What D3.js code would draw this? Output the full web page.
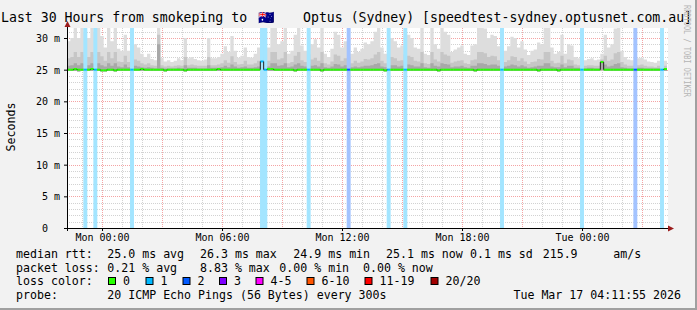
<!DOCTYPE html>
<html>
<head>
<meta charset="utf-8">
<script src="https://cdn.jsdelivr.net/npm/d3@7"></script>
<style>
html, body { margin: 0; padding: 0; background: #f2f2f2; }
svg { display: block; font-family: "DejaVu Sans Mono", monospace; }
text { white-space: pre; }
</style>
</head>
<body>
<div id="chart"></div>
<script>
// 30 hours of 10 minute samples, times in UTC so the labels match the picture
const startTime = Date.UTC(2026, 2, 15, 22, 15);
const endTime = Date.UTC(2026, 2, 17, 4, 15);
const stepMinutes = 10;

// round trip times in ms
const rttMax = [29.5,30,32,30,32,31,30,32,31,32,
  30.3,28.5,32,29.5,32,28.3,28,30.5,28,32,
  29,28.5,27.5,27,27.5,26.7,26.5,32,26.8,26.3,
  26.5,26.2,26.4,26.8,26.5,30,26.8,27,26.7,26.5,
  26.4,26.6,30,26.8,26.8,27,27.5,28.7,27.8,30.3,
  28,26.9,27.2,28.5,27,26.9,27.5,28.5,31,30,
  28.5,32,32,29,29.5,32,27.5,28,30.5,32,
  28.8,28,31,29,29.8,28.5,32,27.5,27,28.3,
  31,30.5,28.5,29.5,30,27.5,28.5,27.8,28.3,29.3,
  29,29.5,31,32,28.5,27.5,30,30,29.5,28.5,
  28.8,31,30.5,30,28.5,28.3,32,27.5,27.3,32,
  29,28.3,32,31,30.5,27.8,28.2,28.5,28.8,27.5,
  27.3,28.8,29,32,32,31.5,30,30.5,30.3,28.7,
  30,28,28.7,30.2,30,28.5,29.5,28.2,27.3,28,
  28.2,29.3,29,32,32,28.5,27.5,27.8,30.5,27.5,
  29,28.8,27,26.8,27,26.5,26.7,26.8,26.5,26.6,
  27.5,30.5,28.5,29,31.5,32,28,27,26.6,26.5,
  27,26.8,26.9,26.6,26.3,26.2,26.1,26.4,26.5,26.4];

const rttUpper = [26.8,27.0,27.8,27.0,27.8,27.4,27.0,27.8,27.4,27.8,
  27.1,26.4,27.8,26.8,27.8,26.3,26.2,27.2,26.2,27.8,
  26.6,26.4,26.0,25.8,26.0,25.7,25.6,30.5,25.7,25.5,
  25.6,25.5,25.6,25.7,25.6,27.0,25.7,25.8,25.7,25.6,
  25.6,25.6,27.0,25.7,25.7,25.8,26.0,26.5,26.1,27.1,
  26.2,25.8,25.9,26.4,25.8,25.8,26.0,26.4,27.4,27.0,
  26.4,27.8,27.8,26.6,26.8,27.8,26.0,26.2,27.2,27.8,
  26.5,26.2,27.4,26.6,26.9,26.4,27.8,26.0,25.8,26.3,
  27.4,27.2,26.4,26.8,27.0,26.0,26.4,26.1,26.3,26.7,
  26.6,26.8,27.4,27.8,26.4,26.0,27.0,27.0,26.8,26.4,
  26.5,27.4,27.2,27.0,26.4,26.3,27.8,26.0,25.9,27.8,
  26.6,26.3,27.8,27.4,27.2,26.1,26.3,26.4,26.5,26.0,
  25.9,26.5,26.6,27.8,27.8,27.6,27.0,27.2,27.1,26.5,
  27.0,26.2,26.5,27.1,27.0,26.4,26.8,26.3,25.9,26.2,
  26.3,26.7,26.6,27.8,27.8,26.4,26.0,26.1,27.2,26.0,
  26.6,26.5,25.8,25.7,25.8,25.6,25.7,25.7,25.6,25.6,
  26.6,27.2,26.4,26.6,27.6,27.8,26.2,25.8,25.6,25.6,
  25.8,25.7,25.8,25.6,25.5,25.5,25.4,25.6,25.6,25.6];

const rttInner = [25.6,25.7,26.0,25.7,26.0,25.9,25.7,26.0,25.9,26.0,
  25.7,25.5,26.0,25.6,26.0,25.5,25.4,25.8,25.4,26.0,
  25.6,25.5,25.4,25.3,25.4,25.3,25.2,29.0,25.3,25.2,
  25.2,25.2,25.2,25.3,25.2,25.7,25.3,25.3,25.3,25.2,
  25.2,25.2,25.7,25.3,25.3,25.3,25.4,25.6,25.4,25.8,
  25.5,25.3,25.4,25.5,25.3,25.3,25.4,25.5,26.6,25.8,
  25.5,26.0,26.0,25.6,25.7,26.0,25.4,25.5,25.8,26.0,
  25.6,25.5,25.9,25.6,25.7,25.5,26.0,25.4,25.3,25.5,
  25.9,25.8,25.5,25.7,25.7,25.4,25.5,25.4,25.5,25.6,
  25.6,25.7,25.9,26.0,25.5,25.4,25.7,25.7,25.7,25.5,
  25.6,25.9,25.8,25.7,25.5,25.5,26.0,25.4,25.3,26.0,
  25.6,25.5,26.0,25.9,25.8,25.4,25.5,25.5,25.6,25.4,
  25.3,25.6,25.6,26.0,26.0,25.9,25.7,25.8,25.8,25.6,
  25.7,25.5,25.6,25.8,25.7,25.5,25.7,25.5,25.3,25.4,
  25.5,25.6,25.6,26.0,26.0,25.5,25.4,25.4,25.8,25.4,
  25.6,25.6,25.3,25.3,25.3,25.2,25.3,25.3,25.2,25.2,
  26.4,25.8,25.5,25.6,25.9,26.0,25.4,25.3,25.2,25.2,
  25.3,25.3,25.3,25.2,25.2,25.2,25.2,25.2,25.2,25.2];

const rttMedian = [25.0,25.0,25.1,25.0,25.0,25.0,25.0,25.1,25.0,25.0,
  24.9,24.9,25.0,25.0,24.9,25.0,25.0,25.0,25.0,25.0,
  25.0,25.0,25.1,25.0,25.0,25.0,25.0,25.0,25.0,24.9,
  25.0,25.0,25.0,25.0,25.0,24.9,25.0,25.0,25.0,25.0,
  25.0,25.0,25.0,25.0,25.0,25.1,25.0,25.0,25.0,25.0,
  25.0,25.0,25.0,25.0,25.0,25.0,25.0,25.0,26.3,25.0,
  25.1,25.1,25.0,25.0,25.0,25.0,25.0,25.0,24.9,25.0,
  25.0,25.0,25.0,25.0,25.0,25.0,24.9,25.0,25.0,25.0,
  25.0,25.0,25.0,25.0,25.0,25.0,25.0,25.0,25.0,25.0,
  25.0,25.0,25.0,25.0,25.0,24.9,25.0,25.0,25.0,25.0,
  25.0,25.0,25.0,25.0,25.0,25.0,25.0,25.0,25.0,25.0,
  25.0,24.9,25.0,25.0,25.0,25.0,25.0,25.0,25.0,25.0,
  25.0,25.0,24.9,25.0,25.0,25.0,25.0,25.0,25.0,25.0,
  25.0,25.0,25.0,25.0,25.0,25.0,25.0,25.0,25.0,25.0,
  25.0,24.9,25.0,25.0,25.0,25.0,25.0,24.9,25.0,25.0,
  25.0,25.0,25.0,25.0,25.0,25.0,25.0,25.0,25.0,25.0,
  26.2,25.0,25.0,25.0,25.0,25.0,25.0,25.0,25.0,25.0,
  25.0,25.0,25.0,25.0,25.0,25.0,25.0,25.0,25.0,25.1];

const rttMin = [24.8,24.8,24.8,24.7,24.8,24.8,24.8,24.8,24.8,24.8,
  24.7,24.7,24.8,24.8,24.7,24.8,24.8,24.8,24.8,24.8,
  24.8,24.8,24.8,24.8,24.8,24.8,24.8,24.8,24.8,24.7,
  24.8,24.8,24.8,24.8,24.8,24.7,24.8,24.8,24.8,24.8,
  24.8,24.8,24.8,24.8,24.8,24.8,24.8,24.8,24.8,24.8,
  24.8,24.8,24.8,24.8,24.8,24.8,24.8,24.8,24.9,24.8,
  24.8,24.8,24.8,24.8,24.8,24.8,24.8,24.8,24.7,24.8,
  24.8,24.8,24.8,24.8,24.8,24.8,24.7,24.8,24.8,24.8,
  24.8,24.8,24.8,24.8,24.8,24.8,24.8,24.8,24.8,24.8,
  24.8,24.8,24.8,24.8,24.8,24.7,24.8,24.8,24.8,24.8,
  24.8,24.8,24.8,24.8,24.8,24.8,24.8,24.8,24.8,24.8,
  24.8,24.7,24.8,24.8,24.8,24.8,24.8,24.8,24.8,24.8,
  24.8,24.8,24.7,24.8,24.8,24.8,24.8,24.8,24.8,24.8,
  24.8,24.8,24.8,24.8,24.8,24.8,24.8,24.8,24.8,24.8,
  24.8,24.7,24.8,24.8,24.8,24.8,24.8,24.7,24.8,24.8,
  24.8,24.8,24.8,24.8,24.8,24.8,24.8,24.8,24.8,24.8,
  24.9,24.8,24.8,24.8,24.8,24.8,24.8,24.8,24.8,24.8,
  24.8,24.8,24.8,24.8,24.8,24.8,24.8,24.8,24.8,24.8];

// packet loss events: sample slot and pings lost out of 20
const lossSlot = [5, 8, 19, 58, 59, 72, 84, 96, 101, 130, 154, 170, 178];
const lossPings = [1, 1, 1, 1, 1, 1, 2, 1, 1, 1, 1, 2, 1];

// legend
const lossLabels = ["0", "1", "2", "3", "4-5", "6-10", "11-19", "20/20"];
const lossColors = ["#26ff00", "#00b8ff", "#0059ff", "#7e00ff", "#ff00ff", "#ff5500", "#ff0000", "#a10000"];
const rttStats = ["25.0 ms avg", "26.3 ms max", "24.9 ms min", "25.1 ms now", "0.1 ms sd", "215.9", "am/s"];
const lossStats = ["0.21 % avg", "8.83 % max", "0.00 % min", "0.00 % now"];
const probeText = "20 ICMP Echo Pings (56 Bytes) every 300s";
const stampText = "Tue Mar 17 04:11:55 2026";
const yTicks = [0, 5, 10, 15, 20, 25, 30];

const width = 697, height = 310;
const plot = { left: 67, right: 667, top: 28, bottom: 228 };

const svg = d3.select("#chart").append("svg")
  .attr("width", width).attr("height", height);

svg.append("rect").attr("width", width).attr("height", height).attr("fill", "#f2f2f2");
// shade on right and bottom edge
svg.append("rect").attr("x", width - 2).attr("y", 0).attr("width", 2).attr("height", height).attr("fill", "#a0a0a0");
svg.append("rect").attr("x", 0).attr("y", height - 2).attr("width", width).attr("height", 2).attr("fill", "#a0a0a0");

const x = d3.scaleUtc().domain([startTime, endTime]).range([plot.left, plot.right]);
const y = d3.scaleLinear().domain([0, 31.58]).range([plot.bottom, plot.top]);

svg.append("rect")
  .attr("x", plot.left).attr("y", plot.top)
  .attr("width", plot.right - plot.left + 1).attr("height", plot.bottom - plot.top)
  .attr("fill", "#fff");

svg.append("clipPath").attr("id", "clip").append("rect")
  .attr("x", plot.left).attr("y", plot.top)
  .attr("width", plot.right - plot.left).attr("height", plot.bottom - plot.top);

// grid
const grid = svg.append("g").attr("shape-rendering", "crispEdges");
const hours = d3.utcHour.range(new Date(startTime), new Date(endTime));
grid.selectAll(".vgrid").data(hours).join("line")
  .attr("x1", d => Math.round(x(d)) + 0.5).attr("x2", d => Math.round(x(d)) + 0.5)
  .attr("y1", plot.top).attr("y2", plot.bottom)
  .attr("stroke", d => d.getUTCHours() % 3 === 0 ? "#f4a4a4" : "#d2d2d2")
  .attr("stroke-dasharray", "1,1");
const yMinor = d3.range(1, 32).filter(v => v % 5 !== 0);
grid.selectAll(".hminor").data(yMinor).join("line")
  .attr("x1", plot.left).attr("x2", plot.right + 1)
  .attr("y1", d => Math.round(y(d)) + 0.5).attr("y2", d => Math.round(y(d)) + 0.5)
  .attr("stroke", "#d2d2d2").attr("stroke-dasharray", "1,1");
grid.selectAll(".hmajor").data(yTicks.slice(1)).join("line")
  .attr("x1", plot.left).attr("x2", plot.right + 1)
  .attr("y1", d => Math.round(y(d)) + 0.5).attr("y2", d => Math.round(y(d)) + 0.5)
  .attr("stroke", "#f4a4a4").attr("stroke-dasharray", "1,1");

// samples
const samples = rttMedian.map((m, i) => ({
  t: startTime + i * stepMinutes * 60000,
  min: rttMin[i], inner: rttInner[i], upper: rttUpper[i], max: rttMax[i], median: m,
  loss: 0
}));
lossSlot.forEach((s, k) => { samples[s].loss = lossPings[k]; });
const last = samples[samples.length - 1];
const stepped = samples.concat([{ ...last, t: last.t + stepMinutes * 60000 }]);

function lossBin(p) {
  if (p <= 3) return p;
  if (p <= 5) return 4;
  if (p <= 10) return 5;
  if (p <= 19) return 6;
  return 7;
}

const data = svg.append("g").attr("clip-path", "url(#clip)");

// smoke
const layers = [
  { key: "max", color: "#dddddd" },
  { key: "upper", color: "#c6c6c6" },
  { key: "inner", color: "#a8a8a8" }
];
layers.forEach(l => {
  data.append("path")
    .datum(stepped)
    .attr("fill", l.color)
    .attr("d", d3.area().curve(d3.curveStepAfter)
      .x(d => x(d.t)).y0(d => y(d.min)).y1(d => y(d[l.key])));
});

// loss bars
const barW = x(startTime + stepMinutes * 60000) - x(startTime);
data.selectAll(".loss").data(samples.filter(d => d.loss > 0)).join("rect")
  .attr("x", d => x(d.t) - 0.3).attr("width", barW + 0.6)
  .attr("y", plot.top).attr("height", plot.bottom - plot.top)
  .attr("fill", d => d3.interpolateRgb("#ffffff", lossColors[lossBin(d.loss)])(0.36));

// median line, coloured by loss
data.selectAll(".med").data(samples).join("line")
  .attr("x1", d => x(d.t)).attr("x2", d => x(d.t) + barW)
  .attr("y1", d => y(d.median)).attr("y2", d => y(d.median))
  .attr("stroke", d => lossColors[lossBin(d.loss)])
  .attr("stroke-width", 2);
data.selectAll(".medv").data(samples.slice(1)).join("line")
  .attr("x1", d => x(d.t)).attr("x2", d => x(d.t))
  .attr("y1", (d, i) => y(samples[i].median)).attr("y2", d => y(d.median))
  .attr("stroke", "#222").attr("stroke-width", 1);

// axes
const axisColor = "#000";
svg.append("line").attr("x1", plot.left - 3).attr("x2", plot.right + 2)
  .attr("y1", plot.bottom + 0.5).attr("y2", plot.bottom + 0.5).attr("stroke", axisColor);
svg.append("line").attr("x1", plot.left + 0.5).attr("x2", plot.left + 0.5)
  .attr("y1", plot.bottom + 3).attr("y2", plot.top - 3).attr("stroke", axisColor);
svg.append("path").attr("fill", "#9b1c1c")
  .attr("d", `M${plot.right + 1},${plot.bottom - 2.5}L${plot.right + 7},${plot.bottom + 0.5}L${plot.right + 1},${plot.bottom + 3.5}Z`);
svg.append("path").attr("fill", "#9b1c1c")
  .attr("d", `M${plot.left - 2.5},${plot.top - 1}L${plot.left + 0.5},${plot.top - 7}L${plot.left + 3.5},${plot.top - 1}Z`);

// y ticks and labels
const yAxis = svg.append("g").attr("transform", `translate(${plot.left},0)`)
  .call(d3.axisLeft(y).tickValues(yTicks).tickSize(3).tickPadding(4)
    .tickFormat(d => d === 0 ? "0  " : d + " m"));
yAxis.select(".domain").remove();
yAxis.selectAll("text").attr("font-size", 10).attr("font-family", "DejaVu Sans Mono")
  .attr("fill", "#000").attr("dy", "0.36em");

// x ticks and labels
const xAxis = svg.append("g").attr("transform", `translate(0,${plot.bottom})`)
  .call(d3.axisBottom(x).ticks(d3.utcHour.every(6)).tickSize(3).tickPadding(3)
    .tickFormat(d3.utcFormat("%a %H:%M")));
xAxis.select(".domain").remove();
xAxis.selectAll("text").attr("font-size", 10).attr("font-family", "DejaVu Sans Mono").attr("fill", "#000");

// title
const title = svg.append("g").attr("font-size", 13.2).attr("fill", "#000");
title.append("text").attr("x", 1).attr("y", 22).text("Last 30 Hours from smokeping to");
title.append("text").attr("x", 258).attr("y", 22).text("\u{1F1E6}\u{1F1FA}");
title.append("text").attr("x", 303).attr("y", 22).text("Optus (Sydney) [speedtest-sydney.optusnet.com.au]");

// vertical labels
svg.append("text").attr("transform", "translate(15,127) rotate(-90)")
  .attr("text-anchor", "middle").attr("font-size", 11.6).text("Seconds");
svg.append("text").attr("transform", "translate(684,5) rotate(90)")
  .attr("font-size", 8).attr("fill", "#b4b4b4")
  .attr("textLength", 92).attr("lengthAdjust", "spacingAndGlyphs")
  .text("RRDTOOL / TOBI OETIKER");

// legend
const legend = svg.append("g").attr("font-size", 11.6).attr("fill", "#000");
const rows = [258, 271.5, 285, 298.5];
legend.append("text").attr("x", 16).attr("y", rows[0]).text("median rtt:");
legend.append("text").attr("x", 16).attr("y", rows[1]).text("packet loss:");
legend.append("text").attr("x", 16).attr("y", rows[2]).text("loss color:");
legend.append("text").attr("x", 16).attr("y", rows[3]).text("probe:");

const rttX = [107.3, 200, 293.3, 386, 470, 542.7, 613.3];
legend.selectAll(".rtt").data(rttStats).join("text")
  .attr("x", (d, i) => rttX[i]).attr("y", rows[0]).text(d => d);
const lossX = [107.3, 200, 279.3, 363];
legend.selectAll(".ls").data(lossStats).join("text")
  .attr("x", (d, i) => lossX[i]).attr("y", rows[1]).text(d => d);

const boxX = [108.5, 146, 183, 219.5, 256, 307, 365, 431];
const sw = legend.selectAll(".sw").data(lossLabels).join("g")
  .attr("transform", (d, i) => `translate(${boxX[i]},${rows[2] - 7.5})`);
sw.append("rect").attr("width", 7).attr("height", 7)
  .attr("fill", (d, i) => lossColors[i]).attr("stroke", "#000").attr("stroke-width", 1);
sw.append("text").attr("x", 14.5).attr("y", 7.5).text(d => d);

legend.append("text").attr("x", 107.3).attr("y", rows[3]).text(probeText);
legend.append("text").attr("x", 681).attr("y", rows[3]).attr("text-anchor", "end").text(stampText);
</script>
</body>
</html>
